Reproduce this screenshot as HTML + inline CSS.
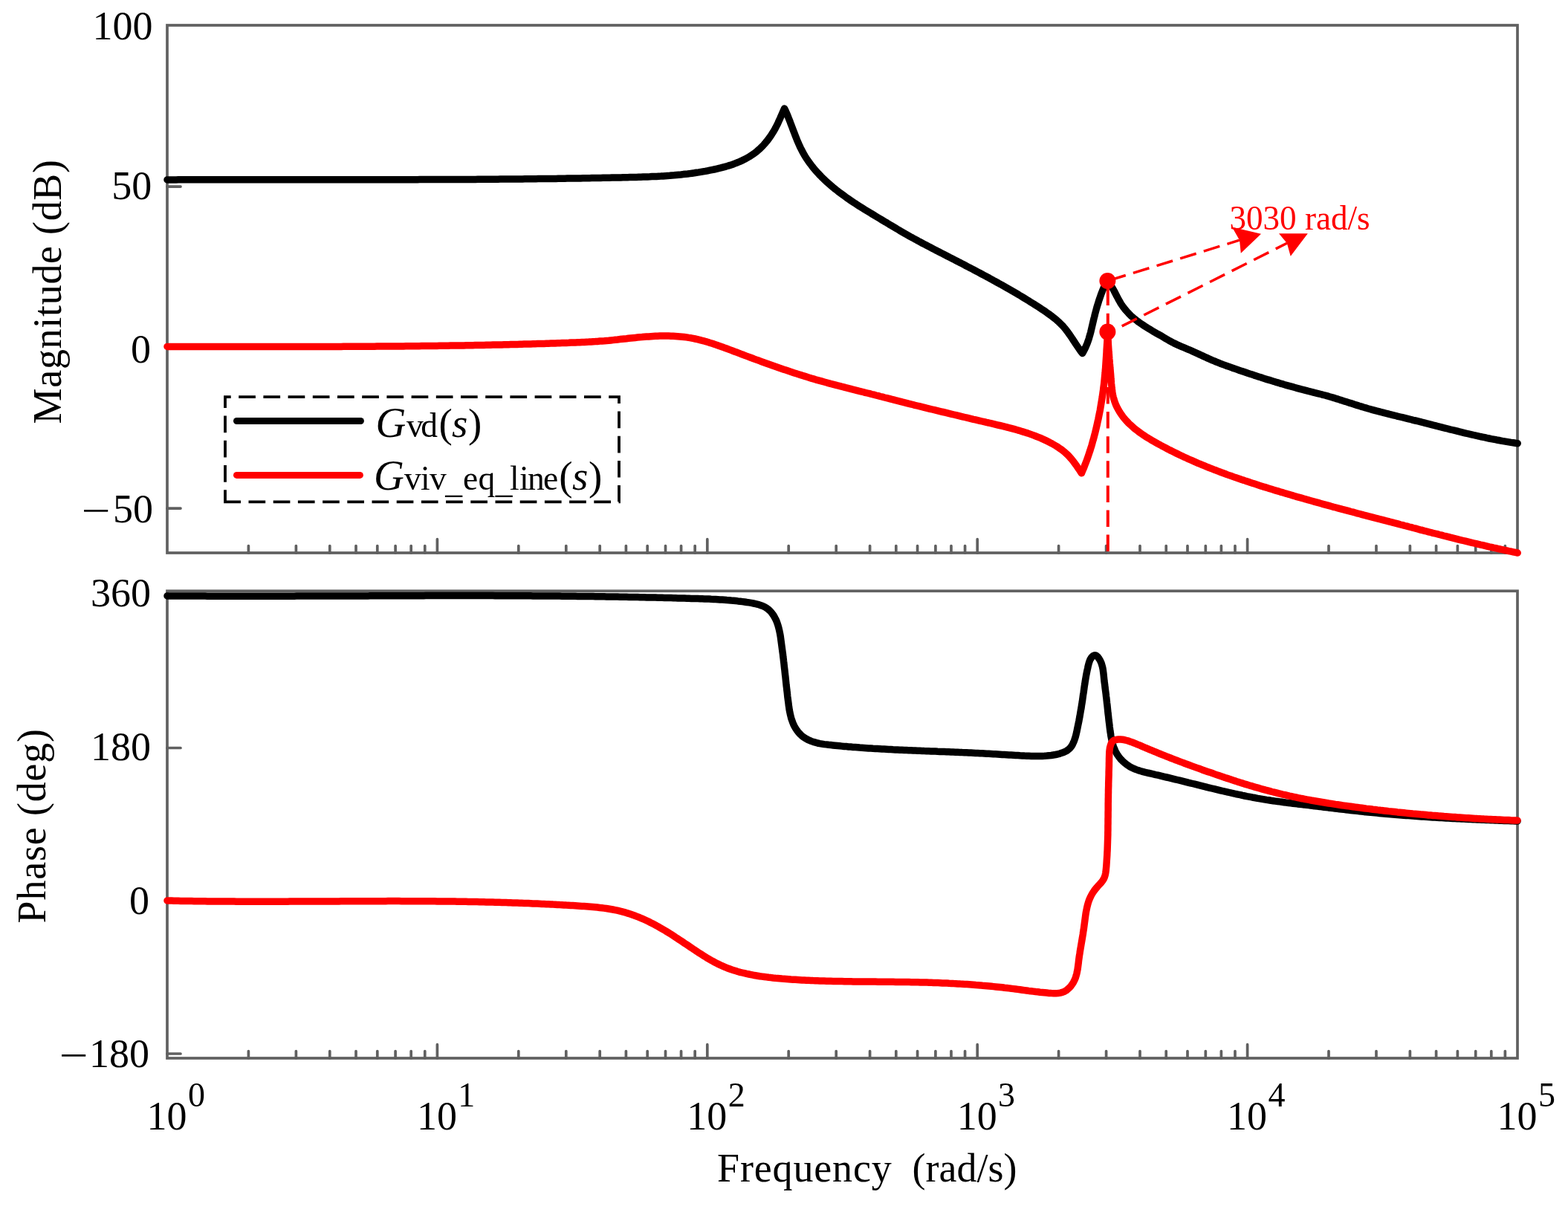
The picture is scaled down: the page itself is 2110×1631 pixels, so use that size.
<!DOCTYPE html><html><head><meta charset="utf-8"><title>Bode plot</title><style>
html,body{margin:0;padding:0;background:#fff;width:2110px;height:1631px;overflow:hidden}
svg{display:block}
text{font-family:"Liberation Serif","Times New Roman",serif;fill:#000}
</style></head><body>
<svg xmlns="http://www.w3.org/2000/svg" width="2110" height="1631" viewBox="0 0 2110 1631">
<rect width="2110" height="1631" fill="#fff"/>
<rect x="225.0" y="34.0" width="1817.0" height="710.0" fill="none" stroke="#606060" stroke-width="3.70"/>
<path d="M334.39,744.0V734.6M398.39,744.0V734.6M443.79,744.0V734.6M479.01,744.0V734.6M507.78,744.0V734.6M532.11,744.0V734.6M553.18,744.0V734.6M571.77,744.0V734.6M588.40,744.0V725.7M697.79,744.0V734.6M761.79,744.0V734.6M807.19,744.0V734.6M842.41,744.0V734.6M871.18,744.0V734.6M895.51,744.0V734.6M916.58,744.0V734.6M935.17,744.0V734.6M951.80,744.0V725.7M1061.19,744.0V734.6M1125.19,744.0V734.6M1170.59,744.0V734.6M1205.81,744.0V734.6M1234.58,744.0V734.6M1258.91,744.0V734.6M1279.98,744.0V734.6M1298.57,744.0V734.6M1315.20,744.0V725.7M1424.59,744.0V734.6M1488.59,744.0V734.6M1533.99,744.0V734.6M1569.21,744.0V734.6M1597.98,744.0V734.6M1622.31,744.0V734.6M1643.38,744.0V734.6M1661.97,744.0V734.6M1678.60,744.0V725.7M1787.99,744.0V734.6M1851.99,744.0V734.6M1897.39,744.0V734.6M1932.61,744.0V734.6M1961.38,744.0V734.6M1985.71,744.0V734.6M2006.78,744.0V734.6M2025.37,744.0V734.6" stroke="#606060" stroke-width="3.70" stroke-linecap="round" fill="none"/>
<rect x="225.0" y="795.3" width="1817.0" height="628.7" fill="none" stroke="#606060" stroke-width="3.70"/>
<path d="M334.39,1424.0V1414.6M398.39,1424.0V1414.6M443.79,1424.0V1414.6M479.01,1424.0V1414.6M507.78,1424.0V1414.6M532.11,1424.0V1414.6M553.18,1424.0V1414.6M571.77,1424.0V1414.6M588.40,1424.0V1405.7M697.79,1424.0V1414.6M761.79,1424.0V1414.6M807.19,1424.0V1414.6M842.41,1424.0V1414.6M871.18,1424.0V1414.6M895.51,1424.0V1414.6M916.58,1424.0V1414.6M935.17,1424.0V1414.6M951.80,1424.0V1405.7M1061.19,1424.0V1414.6M1125.19,1424.0V1414.6M1170.59,1424.0V1414.6M1205.81,1424.0V1414.6M1234.58,1424.0V1414.6M1258.91,1424.0V1414.6M1279.98,1424.0V1414.6M1298.57,1424.0V1414.6M1315.20,1424.0V1405.7M1424.59,1424.0V1414.6M1488.59,1424.0V1414.6M1533.99,1424.0V1414.6M1569.21,1424.0V1414.6M1597.98,1424.0V1414.6M1622.31,1424.0V1414.6M1643.38,1424.0V1414.6M1661.97,1424.0V1414.6M1678.60,1424.0V1405.7M1787.99,1424.0V1414.6M1851.99,1424.0V1414.6M1897.39,1424.0V1414.6M1932.61,1424.0V1414.6M1961.38,1424.0V1414.6M1985.71,1424.0V1414.6M2006.78,1424.0V1414.6M2025.37,1424.0V1414.6" stroke="#606060" stroke-width="3.70" stroke-linecap="round" fill="none"/>
<path d="M225.0,251.1H243.0M225.0,467.6H243.0M225.0,684.1H243.0M225.0,800.0H243.0M225.0,1006.5H243.0M225.0,1212.3H243.0M225.0,1418.0H243.0" stroke="#606060" stroke-width="3.70" stroke-linecap="round" fill="none"/>
<text x="205.4" y="52.9" font-size="54" text-anchor="end">100</text>
<text x="204.3" y="267.6" font-size="54" text-anchor="end">50</text>
<text x="203.0" y="487.7" font-size="54" text-anchor="end">0</text>
<text x="206.1" y="702.7" font-size="54" text-anchor="end">50</text>
<text x="203.1" y="815.7" font-size="54" text-anchor="end">360</text>
<text x="203.1" y="1022.6" font-size="54" text-anchor="end">180</text>
<text x="201.1" y="1229.6" font-size="54" text-anchor="end">0</text>
<text x="201.1" y="1435.5" font-size="54" text-anchor="end">180</text>
<text font-size="54" transform="translate(109.56,705.33) scale(1.280,1)">&#8722;</text>
<text font-size="54" transform="translate(79.46,1438.33) scale(1.280,1)">&#8722;</text>
<text x="197.5" y="1519.7" font-size="54">10</text>
<text x="252.9" y="1488.9" font-size="46">0</text>
<text x="560.9" y="1519.7" font-size="54">10</text>
<text x="616.3" y="1488.9" font-size="46">1</text>
<text x="924.3" y="1519.7" font-size="54">10</text>
<text x="979.7" y="1488.9" font-size="46">2</text>
<text x="1287.7" y="1519.7" font-size="54">10</text>
<text x="1343.1" y="1488.9" font-size="46">3</text>
<text x="1651.1" y="1519.7" font-size="54">10</text>
<text x="1706.5" y="1488.9" font-size="46">4</text>
<text x="2014.5" y="1519.7" font-size="54">10</text>
<text x="2069.9" y="1488.9" font-size="46">5</text>
<text x="965.0" y="1589.8" font-size="54" letter-spacing="0.85">Frequency</text>
<text x="1227.5" y="1589.8" font-size="54">(rad/s)</text>
<text font-size="54" letter-spacing="0.7" transform="translate(81.8,570.5) rotate(-90)">Magnitude (dB)</text>
<text font-size="54" letter-spacing="0.8" transform="translate(61.0,1242.4) rotate(-90)">Phase (deg)</text>
<path d="M225.0,241.9L228.0,241.9L231.0,241.9L234.0,241.9L237.0,241.9L240.0,241.8L243.0,241.8L246.0,241.8L249.0,241.8L252.0,241.8L255.0,241.8L258.0,241.8L261.1,241.8L264.1,241.8L267.1,241.8L270.1,241.8L273.1,241.8L276.1,241.8L279.1,241.7L282.1,241.7L285.1,241.7L288.1,241.7L291.1,241.7L294.1,241.7L297.1,241.7L300.1,241.7L303.1,241.7L306.1,241.7L309.1,241.7L312.1,241.7L315.2,241.7L318.2,241.7L321.2,241.7L324.2,241.7L327.2,241.7L330.2,241.7L333.2,241.7L336.2,241.7L339.2,241.7L342.2,241.7L345.2,241.7L348.2,241.7L351.2,241.7L354.2,241.7L357.2,241.7L360.2,241.7L363.3,241.7L366.3,241.7L369.3,241.7L372.3,241.7L375.3,241.7L378.3,241.7L381.3,241.7L384.3,241.7L387.3,241.7L390.3,241.7L393.3,241.7L396.3,241.7L399.3,241.7L402.4,241.7L405.4,241.7L408.4,241.7L411.4,241.7L414.4,241.7L417.4,241.7L420.4,241.7L423.4,241.7L426.4,241.7L429.4,241.7L432.4,241.7L435.4,241.7L438.4,241.7L441.5,241.7L444.5,241.7L447.5,241.7L450.5,241.7L453.5,241.7L456.5,241.7L459.5,241.7L462.5,241.7L465.5,241.7L468.5,241.7L471.5,241.7L474.5,241.7L477.6,241.7L480.6,241.7L483.6,241.7L486.6,241.7L489.6,241.7L492.6,241.7L495.6,241.7L498.6,241.7L501.6,241.7L504.6,241.7L507.6,241.7L510.6,241.7L513.7,241.7L516.7,241.7L519.7,241.7L522.7,241.7L525.7,241.7L528.7,241.7L531.7,241.7L534.7,241.7L537.7,241.7L540.7,241.7L543.7,241.7L546.7,241.7L549.8,241.7L552.8,241.7L555.8,241.7L558.8,241.7L561.8,241.7L564.8,241.6L567.8,241.6L570.8,241.6L573.8,241.6L576.8,241.6L579.8,241.6L582.8,241.6L585.8,241.6L588.9,241.6L591.9,241.6L594.9,241.6L597.9,241.5L600.9,241.5L603.9,241.5L606.9,241.5L609.9,241.5L612.9,241.5L615.9,241.5L618.9,241.5L621.9,241.4L625.0,241.4L628.0,241.4L631.0,241.4L634.0,241.4L637.0,241.4L640.0,241.4L643.0,241.3L646.0,241.3L649.0,241.3L652.0,241.3L655.0,241.3L658.0,241.2L661.0,241.2L664.0,241.2L667.1,241.2L670.1,241.2L673.1,241.1L676.1,241.1L679.1,241.1L682.1,241.1L685.1,241.0L688.1,241.0L691.1,241.0L694.1,241.0L697.1,240.9L700.1,240.9L703.1,240.9L706.1,240.8L709.1,240.8L712.2,240.8L715.2,240.7L718.2,240.7L721.2,240.7L724.2,240.6L727.2,240.6L730.2,240.6L733.2,240.5L736.2,240.5L739.2,240.5L742.2,240.4L745.2,240.4L748.2,240.4L751.2,240.3L754.2,240.3L757.2,240.2L760.2,240.2L763.3,240.1L766.3,240.1L769.3,240.1L772.3,240.0L775.3,240.0L778.3,239.9L781.3,239.9L784.3,239.8L787.3,239.8L790.3,239.7L793.3,239.7L796.3,239.6L799.3,239.6L802.3,239.5L805.3,239.5L808.3,239.4L811.3,239.3L814.3,239.3L817.3,239.2L820.3,239.2L823.3,239.1L826.3,239.0L829.3,239.0L832.3,238.9L835.3,238.9L838.4,238.8L841.4,238.7L844.4,238.7L847.4,238.6L850.4,238.5L853.4,238.4L856.4,238.4L859.4,238.3L862.4,238.2L865.4,238.1L868.4,238.0L871.4,237.9L874.4,237.8L877.4,237.6L880.4,237.5L883.4,237.4L886.4,237.2L889.4,237.1L892.4,236.9L895.4,236.7L898.3,236.5L901.3,236.3L904.3,236.0L907.3,235.8L910.3,235.5L913.3,235.2L916.3,235.0L919.3,234.6L922.3,234.3L925.3,234.0L928.2,233.6L931.2,233.2L934.2,232.8L937.2,232.3L940.2,231.9L943.2,231.4L946.1,230.9L949.1,230.4L952.1,229.8L955.1,229.2L958.0,228.6L961.0,228.0L964.0,227.3L966.9,226.6L969.9,225.9L972.8,225.1L975.8,224.3L978.7,223.5L981.6,222.6L984.5,221.7L987.3,220.7L990.1,219.6L992.9,218.5L995.7,217.3L998.4,216.1L1001.1,214.8L1003.7,213.5L1006.3,212.0L1008.9,210.5L1011.3,208.9L1013.8,207.3L1016.2,205.5L1018.5,203.7L1020.8,201.7L1023.0,199.7L1025.1,197.6L1027.2,195.5L1029.2,193.2L1031.1,190.9L1033.0,188.6L1034.8,186.1L1036.6,183.7L1038.3,181.1L1039.9,178.5L1041.5,175.9L1043.0,173.3L1044.4,170.6L1045.8,167.9L1047.1,165.2L1048.3,162.4L1049.6,159.7L1050.8,156.9L1052.0,154.2L1053.2,151.4L1054.4,148.7L1055.6,146.0L1056.9,148.7L1058.1,151.4L1059.3,154.2L1060.4,156.9L1061.5,159.7L1062.7,162.6L1063.7,165.4L1064.8,168.2L1065.9,171.1L1066.9,173.9L1068.0,176.8L1069.1,179.6L1070.2,182.5L1071.3,185.3L1072.4,188.1L1073.6,190.9L1074.8,193.7L1076.0,196.4L1077.3,199.1L1078.7,201.8L1080.1,204.5L1081.5,207.1L1083.0,209.7L1084.6,212.2L1086.2,214.7L1087.9,217.2L1089.7,219.6L1091.5,222.0L1093.3,224.4L1095.2,226.7L1097.1,229.0L1099.1,231.2L1101.1,233.4L1103.2,235.6L1105.3,237.8L1107.4,239.9L1109.6,242.0L1111.8,244.1L1114.1,246.1L1116.4,248.1L1118.7,250.1L1121.0,252.1L1123.3,254.0L1125.7,255.9L1128.1,257.8L1130.6,259.6L1133.0,261.4L1135.5,263.2L1137.9,265.0L1140.4,266.8L1142.9,268.5L1145.4,270.2L1148.0,271.9L1150.5,273.6L1153.0,275.2L1155.6,276.9L1158.1,278.5L1160.6,280.1L1163.2,281.7L1165.7,283.2L1168.3,284.8L1170.8,286.3L1173.4,287.9L1175.9,289.4L1178.5,291.0L1181.0,292.5L1183.6,294.0L1186.2,295.6L1188.7,297.1L1191.3,298.7L1193.9,300.2L1196.5,301.8L1199.1,303.3L1201.7,304.9L1204.3,306.4L1206.9,308.0L1209.5,309.5L1212.1,311.1L1214.7,312.6L1217.3,314.1L1220.0,315.6L1222.6,317.1L1225.2,318.6L1227.9,320.0L1230.5,321.5L1233.2,322.9L1235.8,324.4L1238.5,325.8L1241.1,327.2L1243.8,328.6L1246.5,330.0L1249.1,331.4L1251.8,332.8L1254.5,334.2L1257.2,335.6L1259.8,337.0L1262.5,338.4L1265.2,339.7L1267.9,341.1L1270.6,342.5L1273.2,343.9L1275.9,345.2L1278.6,346.6L1281.3,348.0L1284.0,349.4L1286.6,350.8L1289.3,352.1L1292.0,353.5L1294.7,354.9L1297.4,356.3L1300.0,357.7L1302.7,359.1L1305.4,360.5L1308.1,361.9L1310.7,363.3L1313.4,364.7L1316.1,366.1L1318.7,367.5L1321.4,369.0L1324.0,370.4L1326.7,371.8L1329.4,373.2L1332.0,374.7L1334.7,376.1L1337.3,377.6L1339.9,379.0L1342.6,380.5L1345.2,382.0L1347.9,383.4L1350.5,384.9L1353.1,386.4L1355.7,387.9L1358.4,389.4L1361.0,390.9L1363.6,392.4L1366.2,393.9L1368.8,395.4L1371.4,397.0L1374.0,398.5L1376.6,400.1L1379.1,401.6L1381.7,403.2L1384.3,404.8L1386.8,406.4L1389.4,408.0L1392.0,409.6L1394.5,411.2L1397.0,412.8L1399.6,414.5L1402.1,416.2L1404.6,417.8L1407.1,419.5L1409.6,421.3L1412.0,423.0L1414.5,424.8L1416.9,426.7L1419.2,428.5L1421.6,430.4L1423.8,432.4L1426.0,434.5L1428.1,436.6L1430.2,438.7L1432.2,441.0L1434.1,443.3L1435.9,445.7L1437.7,448.1L1439.5,450.6L1441.2,453.1L1442.9,455.6L1444.5,458.1L1446.2,460.7L1447.8,463.2L1449.5,465.7L1451.2,468.2L1452.9,470.7L1454.7,473.1L1456.5,475.5L1458.1,472.8L1459.5,470.1L1460.8,467.4L1462.0,464.6L1463.2,461.7L1464.2,458.9L1465.2,456.0L1466.0,453.0L1466.9,450.1L1467.7,447.1L1468.4,444.1L1469.1,441.1L1469.8,438.1L1470.5,435.1L1471.2,432.1L1471.9,429.1L1472.7,426.1L1473.4,423.1L1474.2,420.1L1475.0,417.1L1475.8,414.2L1476.7,411.2L1477.6,408.3L1478.5,405.3L1479.5,402.4L1480.5,399.5L1481.5,396.6L1482.6,393.8L1483.7,390.9L1484.9,388.1L1486.2,385.3L1487.5,382.5L1488.8,379.7L1490.2,377.0L1492.0,379.4L1493.6,381.8L1495.2,384.4L1496.7,387.0L1498.2,389.6L1499.6,392.3L1501.0,395.0L1502.4,397.7L1503.8,400.4L1505.2,403.1L1506.7,405.7L1508.2,408.3L1509.9,410.8L1511.6,413.3L1513.4,415.6L1515.3,417.9L1517.3,420.1L1519.3,422.3L1521.4,424.4L1523.6,426.4L1525.9,428.3L1528.2,430.2L1530.6,432.1L1533.0,433.9L1535.5,435.6L1538.0,437.3L1540.5,439.0L1543.0,440.6L1545.6,442.2L1548.2,443.7L1550.8,445.3L1553.4,446.8L1556.0,448.3L1558.6,449.8L1561.2,451.2L1563.8,452.7L1566.4,454.3L1569.0,455.8L1571.5,457.3L1574.1,458.8L1576.8,460.2L1579.4,461.6L1582.1,462.9L1584.8,464.2L1587.5,465.4L1590.3,466.6L1593.0,467.7L1595.8,468.9L1598.6,470.1L1601.3,471.2L1604.1,472.4L1606.8,473.7L1609.5,474.9L1612.3,476.1L1615.0,477.4L1617.7,478.6L1620.4,479.9L1623.2,481.1L1625.9,482.4L1628.7,483.6L1631.4,484.8L1634.2,485.9L1636.9,487.1L1639.7,488.2L1642.5,489.3L1645.3,490.4L1648.1,491.4L1651.0,492.4L1653.8,493.4L1656.6,494.4L1659.5,495.4L1662.3,496.4L1665.1,497.4L1668.0,498.4L1670.8,499.4L1673.7,500.3L1676.5,501.3L1679.3,502.3L1682.2,503.2L1685.0,504.1L1687.9,505.1L1690.8,506.0L1693.6,506.9L1696.5,507.8L1699.3,508.8L1702.2,509.7L1705.1,510.6L1707.9,511.4L1710.8,512.3L1713.7,513.2L1716.5,514.1L1719.4,514.9L1722.3,515.8L1725.2,516.6L1728.0,517.5L1730.9,518.3L1733.8,519.1L1736.7,519.9L1739.6,520.7L1742.5,521.5L1745.4,522.3L1748.3,523.1L1751.2,523.9L1754.1,524.6L1757.0,525.4L1759.9,526.2L1762.8,526.9L1765.7,527.6L1768.6,528.4L1771.5,529.1L1774.5,529.8L1777.4,530.5L1780.3,531.3L1783.2,532.0L1786.1,532.8L1789.0,533.7L1791.8,534.5L1794.7,535.4L1797.6,536.3L1800.5,537.1L1803.3,538.1L1806.2,539.0L1809.0,539.9L1811.9,540.8L1814.7,541.7L1817.6,542.6L1820.5,543.6L1823.3,544.5L1826.2,545.4L1829.1,546.3L1831.9,547.1L1834.8,548.0L1837.7,548.8L1840.6,549.7L1843.4,550.5L1846.3,551.3L1849.2,552.1L1852.1,552.9L1855.0,553.6L1857.9,554.4L1860.8,555.1L1863.7,555.9L1866.7,556.6L1869.6,557.4L1872.5,558.1L1875.4,558.8L1878.3,559.5L1881.2,560.3L1884.1,561.0L1887.1,561.7L1890.0,562.4L1892.9,563.1L1895.8,563.8L1898.7,564.5L1901.6,565.3L1904.6,566.0L1907.5,566.7L1910.4,567.4L1913.3,568.2L1916.2,568.9L1919.1,569.7L1922.0,570.4L1924.9,571.1L1927.8,571.9L1930.8,572.6L1933.7,573.4L1936.6,574.1L1939.5,574.8L1942.4,575.6L1945.3,576.3L1948.2,577.0L1951.1,577.8L1954.0,578.5L1956.9,579.2L1959.9,579.9L1962.8,580.7L1965.7,581.4L1968.6,582.1L1971.5,582.8L1974.4,583.5L1977.4,584.2L1980.3,584.8L1983.2,585.5L1986.1,586.2L1989.1,586.8L1992.0,587.5L1994.9,588.1L1997.9,588.7L2000.8,589.4L2003.7,590.0L2006.7,590.6L2009.6,591.1L2012.6,591.7L2015.5,592.3L2018.5,592.8L2021.4,593.4L2024.4,593.9L2027.3,594.4L2030.3,594.9L2033.3,595.4L2036.2,595.8L2039.2,596.3L2042.2,596.7" fill="none" stroke="#000" stroke-width="9.5" stroke-linecap="round" stroke-linejoin="round"/>
<path d="M225.0,466.4L228.0,466.4L231.0,466.4L234.0,466.4L237.0,466.4L240.0,466.4L243.0,466.4L246.0,466.4L249.0,466.4L252.0,466.4L255.0,466.4L258.0,466.4L261.0,466.4L264.0,466.4L267.0,466.4L270.0,466.4L273.0,466.4L276.0,466.4L279.0,466.4L282.0,466.4L285.0,466.4L288.0,466.4L291.0,466.4L294.0,466.4L297.0,466.4L300.0,466.4L303.0,466.4L306.0,466.4L309.0,466.4L312.0,466.4L315.0,466.4L318.0,466.4L321.0,466.4L324.0,466.4L327.0,466.4L330.0,466.4L333.0,466.4L336.0,466.4L339.0,466.4L342.1,466.5L345.1,466.5L348.1,466.5L351.1,466.5L354.1,466.5L357.1,466.5L360.1,466.5L363.1,466.5L366.1,466.5L369.1,466.5L372.1,466.5L375.1,466.5L378.1,466.5L381.1,466.5L384.1,466.5L387.1,466.5L390.1,466.5L393.1,466.5L396.1,466.5L399.1,466.5L402.1,466.5L405.1,466.5L408.1,466.4L411.1,466.4L414.1,466.4L417.1,466.4L420.1,466.4L423.1,466.4L426.1,466.4L429.1,466.4L432.1,466.4L435.1,466.4L438.1,466.4L441.1,466.4L444.1,466.4L447.1,466.4L450.1,466.4L453.1,466.4L456.1,466.4L459.1,466.4L462.1,466.3L465.1,466.3L468.1,466.3L471.1,466.3L474.1,466.3L477.1,466.3L480.1,466.3L483.1,466.3L486.1,466.2L489.1,466.2L492.1,466.2L495.1,466.2L498.1,466.2L501.1,466.2L504.1,466.2L507.1,466.1L510.1,466.1L513.1,466.1L516.1,466.1L519.1,466.1L522.1,466.0L525.1,466.0L528.1,466.0L531.1,466.0L534.1,465.9L537.1,465.9L540.1,465.9L543.1,465.9L546.1,465.8L549.1,465.8L552.1,465.8L555.1,465.8L558.1,465.7L561.1,465.7L564.1,465.7L567.1,465.6L570.1,465.6L573.1,465.6L576.1,465.5L579.1,465.5L582.1,465.5L585.1,465.4L588.1,465.4L591.1,465.3L594.1,465.3L597.1,465.3L600.1,465.2L603.1,465.2L606.1,465.1L609.1,465.1L612.1,465.1L615.1,465.0L618.1,465.0L621.2,464.9L624.2,464.9L627.2,464.8L630.2,464.8L633.2,464.7L636.2,464.7L639.2,464.6L642.2,464.5L645.2,464.5L648.2,464.4L651.2,464.4L654.2,464.3L657.2,464.3L660.2,464.2L663.2,464.1L666.2,464.1L669.2,464.0L672.2,463.9L675.2,463.9L678.2,463.8L681.2,463.7L684.2,463.7L687.2,463.6L690.2,463.5L693.2,463.4L696.2,463.4L699.2,463.3L702.2,463.2L705.2,463.1L708.2,463.0L711.2,463.0L714.2,462.9L717.2,462.8L720.2,462.7L723.2,462.6L726.2,462.5L729.2,462.4L732.2,462.4L735.2,462.3L738.2,462.2L741.2,462.1L744.2,462.0L747.2,461.9L750.2,461.8L753.2,461.7L756.2,461.6L759.2,461.5L762.2,461.4L765.2,461.3L768.2,461.1L771.2,461.0L774.2,460.9L777.2,460.8L780.2,460.7L783.2,460.5L786.2,460.4L789.2,460.2L792.2,460.1L795.2,459.9L798.1,459.7L801.1,459.6L804.1,459.4L807.1,459.1L810.1,458.9L813.1,458.7L816.1,458.4L819.1,458.2L822.1,457.9L825.0,457.6L828.0,457.3L831.0,457.0L834.0,456.6L837.0,456.3L840.0,456.0L842.9,455.7L845.9,455.3L848.9,455.0L851.9,454.7L854.9,454.4L857.9,454.1L860.9,453.8L863.9,453.6L866.9,453.3L869.9,453.1L872.9,452.9L875.9,452.7L878.9,452.5L881.9,452.3L884.9,452.2L887.9,452.1L890.9,452.1L893.9,452.1L896.9,452.1L899.9,452.1L902.9,452.2L905.9,452.3L908.9,452.5L911.9,452.7L914.9,452.9L917.9,453.2L920.8,453.5L923.8,453.9L926.7,454.4L929.7,454.8L932.6,455.4L935.5,456.0L938.4,456.6L941.3,457.3L944.2,458.1L947.1,458.8L950.0,459.7L952.9,460.5L955.7,461.4L958.6,462.3L961.4,463.3L964.3,464.2L967.1,465.2L970.0,466.2L972.8,467.2L975.6,468.3L978.4,469.3L981.3,470.4L984.1,471.4L986.9,472.5L989.7,473.6L992.6,474.6L995.4,475.7L998.2,476.8L1001.0,477.8L1003.8,478.9L1006.6,479.9L1009.5,481.0L1012.3,482.0L1015.1,483.1L1017.9,484.1L1020.8,485.1L1023.6,486.2L1026.4,487.2L1029.2,488.2L1032.0,489.2L1034.9,490.2L1037.7,491.2L1040.5,492.2L1043.4,493.2L1046.2,494.2L1049.0,495.2L1051.9,496.2L1054.7,497.2L1057.5,498.1L1060.4,499.1L1063.2,500.0L1066.1,501.0L1068.9,501.9L1071.7,502.8L1074.6,503.7L1077.5,504.6L1080.3,505.5L1083.2,506.4L1086.0,507.3L1088.9,508.2L1091.8,509.1L1094.6,509.9L1097.5,510.8L1100.4,511.6L1103.3,512.4L1106.2,513.2L1109.1,514.0L1111.9,514.8L1114.8,515.6L1117.7,516.4L1120.6,517.1L1123.5,517.9L1126.4,518.7L1129.4,519.4L1132.3,520.2L1135.2,520.9L1138.1,521.7L1141.0,522.4L1143.9,523.1L1146.8,523.9L1149.7,524.6L1152.6,525.3L1155.6,526.1L1158.5,526.8L1161.4,527.5L1164.3,528.3L1167.2,529.0L1170.1,529.7L1173.0,530.5L1175.9,531.2L1178.9,532.0L1181.8,532.7L1184.7,533.5L1187.6,534.2L1190.5,535.0L1193.4,535.7L1196.3,536.4L1199.2,537.2L1202.1,537.9L1205.0,538.7L1207.9,539.4L1210.8,540.1L1213.8,540.9L1216.7,541.6L1219.6,542.3L1222.5,543.1L1225.4,543.8L1228.3,544.5L1231.2,545.3L1234.1,546.0L1237.0,546.7L1239.9,547.4L1242.8,548.1L1245.8,548.9L1248.7,549.6L1251.6,550.3L1254.5,551.0L1257.4,551.7L1260.3,552.4L1263.2,553.1L1266.1,553.8L1269.1,554.5L1272.0,555.2L1274.9,555.9L1277.8,556.6L1280.7,557.3L1283.6,558.0L1286.5,558.7L1289.5,559.4L1292.4,560.1L1295.3,560.8L1298.2,561.5L1301.1,562.2L1304.1,562.9L1307.0,563.6L1309.9,564.3L1312.8,564.9L1315.8,565.6L1318.7,566.3L1321.6,567.0L1324.5,567.7L1327.5,568.4L1330.4,569.0L1333.3,569.7L1336.3,570.4L1339.2,571.1L1342.1,571.8L1345.1,572.5L1348.0,573.2L1350.9,573.9L1353.8,574.6L1356.7,575.4L1359.6,576.1L1362.5,576.9L1365.4,577.7L1368.3,578.5L1371.2,579.3L1374.1,580.2L1377.0,581.1L1379.8,582.0L1382.7,582.9L1385.5,583.9L1388.3,584.9L1391.1,585.9L1393.9,587.0L1396.7,588.1L1399.5,589.2L1402.2,590.4L1404.9,591.6L1407.7,592.9L1410.4,594.2L1413.0,595.6L1415.7,597.0L1418.3,598.5L1420.9,600.0L1423.5,601.6L1425.9,603.3L1428.4,605.0L1430.7,606.8L1433.0,608.7L1435.2,610.7L1437.4,612.8L1439.4,615.0L1441.4,617.2L1443.3,619.5L1445.1,621.9L1446.9,624.3L1448.7,626.8L1450.4,629.3L1452.1,631.8L1453.7,634.3L1455.4,636.8L1456.6,634.0L1457.8,631.2L1458.9,628.4L1460.0,625.6L1461.1,622.8L1462.2,619.9L1463.2,617.1L1464.2,614.2L1465.2,611.3L1466.1,608.5L1467.1,605.6L1468.0,602.7L1468.9,599.8L1469.7,596.9L1470.5,593.9L1471.4,591.0L1472.2,588.1L1472.9,585.2L1473.7,582.2L1474.4,579.3L1475.1,576.3L1475.8,573.4L1476.5,570.4L1477.1,567.4L1477.8,564.5L1478.4,561.5L1479.0,558.5L1479.6,555.5L1480.2,552.6L1480.7,549.6L1481.2,546.6L1481.7,543.6L1482.2,540.6L1482.7,537.6L1483.2,534.6L1483.6,531.6L1484.1,528.6L1484.5,525.6L1484.8,522.6L1485.2,519.6L1485.6,516.6L1485.9,513.6L1486.2,510.6L1486.5,507.5L1486.8,504.5L1487.1,501.5L1487.3,498.5L1487.6,495.5L1487.8,492.4L1488.0,489.4L1488.2,486.4L1488.4,483.3L1488.6,480.3L1488.8,477.3L1489.0,474.3L1489.1,471.2L1489.3,468.2L1489.5,465.2L1489.7,462.1L1489.9,459.1L1490.0,456.1L1490.2,453.1L1490.4,450.0L1490.6,447.0L1490.7,450.0L1490.9,453.1L1491.0,456.1L1491.2,459.1L1491.3,462.1L1491.5,465.1L1491.7,468.1L1491.9,471.0L1492.1,474.0L1492.4,477.0L1492.6,480.0L1492.8,482.9L1493.1,485.9L1493.3,488.9L1493.6,491.9L1493.8,494.8L1494.1,497.8L1494.3,500.8L1494.6,503.8L1494.8,506.8L1495.0,509.8L1495.3,512.9L1495.5,515.9L1495.8,518.9L1496.1,522.0L1496.5,525.0L1496.9,528.0L1497.4,530.9L1498.0,533.9L1498.8,536.8L1499.7,539.6L1500.7,542.5L1501.8,545.2L1503.1,548.0L1504.5,550.6L1506.0,553.2L1507.6,555.8L1509.3,558.2L1511.0,560.7L1512.9,563.0L1514.8,565.3L1516.8,567.4L1518.9,569.6L1521.0,571.6L1523.2,573.6L1525.4,575.6L1527.7,577.5L1530.1,579.3L1532.5,581.1L1534.9,582.9L1537.4,584.6L1539.9,586.3L1542.4,587.9L1545.0,589.5L1547.5,591.0L1550.1,592.6L1552.8,594.1L1555.4,595.6L1558.0,597.1L1560.7,598.5L1563.3,600.0L1566.0,601.4L1568.7,602.8L1571.3,604.2L1574.0,605.6L1576.7,606.9L1579.4,608.3L1582.1,609.6L1584.8,610.9L1587.5,612.2L1590.2,613.5L1592.9,614.8L1595.7,616.0L1598.4,617.3L1601.1,618.5L1603.9,619.7L1606.6,620.9L1609.4,622.1L1612.1,623.3L1614.9,624.4L1617.7,625.6L1620.4,626.7L1623.2,627.9L1626.0,629.0L1628.8,630.1L1631.6,631.2L1634.4,632.3L1637.2,633.3L1640.0,634.4L1642.8,635.5L1645.6,636.5L1648.4,637.5L1651.2,638.6L1654.0,639.6L1656.9,640.6L1659.7,641.6L1662.5,642.6L1665.3,643.5L1668.2,644.5L1671.0,645.5L1673.9,646.4L1676.7,647.4L1679.6,648.3L1682.4,649.3L1685.3,650.2L1688.1,651.1L1691.0,652.0L1693.8,652.9L1696.7,653.9L1699.5,654.8L1702.4,655.6L1705.3,656.5L1708.1,657.4L1711.0,658.3L1713.9,659.2L1716.8,660.1L1719.6,660.9L1722.5,661.8L1725.4,662.6L1728.2,663.5L1731.1,664.3L1734.0,665.2L1736.9,666.0L1739.8,666.9L1742.6,667.7L1745.5,668.6L1748.4,669.4L1751.3,670.2L1754.2,671.0L1757.1,671.8L1760.0,672.7L1762.9,673.5L1765.7,674.3L1768.6,675.1L1771.5,675.9L1774.4,676.7L1777.3,677.5L1780.2,678.3L1783.1,679.1L1786.0,679.9L1788.9,680.7L1791.8,681.5L1794.7,682.3L1797.6,683.0L1800.5,683.8L1803.4,684.6L1806.3,685.4L1809.2,686.1L1812.1,686.9L1815.0,687.7L1817.9,688.5L1820.8,689.2L1823.7,690.0L1826.6,690.8L1829.5,691.5L1832.4,692.3L1835.3,693.1L1838.2,693.8L1841.1,694.6L1844.0,695.3L1846.9,696.1L1849.8,696.9L1852.7,697.6L1855.7,698.4L1858.6,699.1L1861.5,699.9L1864.4,700.7L1867.3,701.4L1870.2,702.2L1873.1,702.9L1876.0,703.7L1878.9,704.4L1881.8,705.2L1884.7,706.0L1887.6,706.7L1890.5,707.5L1893.4,708.2L1896.3,709.0L1899.2,709.7L1902.1,710.5L1905.0,711.2L1907.9,712.0L1910.8,712.8L1913.8,713.5L1916.7,714.3L1919.6,715.0L1922.5,715.8L1925.4,716.5L1928.3,717.3L1931.2,718.0L1934.1,718.7L1937.0,719.5L1939.9,720.2L1942.8,721.0L1945.7,721.7L1948.6,722.4L1951.5,723.2L1954.5,723.9L1957.4,724.6L1960.3,725.3L1963.2,726.1L1966.1,726.8L1969.0,727.5L1971.9,728.2L1974.9,728.9L1977.8,729.6L1980.7,730.3L1983.6,731.0L1986.5,731.7L1989.4,732.4L1992.4,733.1L1995.3,733.7L1998.2,734.4L2001.1,735.1L2004.1,735.8L2007.0,736.4L2009.9,737.1L2012.8,737.7L2015.8,738.4L2018.7,739.0L2021.6,739.7L2024.6,740.3L2027.5,740.9L2030.4,741.6L2033.4,742.2L2036.3,742.8L2039.3,743.4L2042.2,744.0" fill="none" stroke="#f00" stroke-width="9.5" stroke-linecap="round" stroke-linejoin="round"/>
<path d="M225.0,801.9L228.0,801.9L231.0,801.9L234.0,802.0L237.0,802.0L240.0,802.0L243.0,802.0L246.0,802.0L249.0,802.0L252.0,802.1L255.0,802.1L258.0,802.1L261.0,802.1L264.0,802.1L267.0,802.1L270.0,802.1L273.0,802.1L276.0,802.1L279.0,802.2L282.0,802.2L285.0,802.2L288.0,802.2L291.0,802.2L294.0,802.2L297.0,802.2L300.0,802.2L303.0,802.2L306.0,802.2L309.0,802.2L312.0,802.2L315.0,802.2L318.0,802.2L321.0,802.2L324.0,802.2L327.0,802.2L330.0,802.2L333.0,802.2L336.0,802.2L339.0,802.2L342.0,802.2L345.0,802.2L348.0,802.2L351.0,802.2L354.0,802.2L357.0,802.2L360.0,802.2L363.0,802.2L366.0,802.2L369.0,802.2L372.0,802.2L375.0,802.2L378.0,802.2L381.0,802.2L384.0,802.2L387.0,802.2L390.0,802.2L393.0,802.2L396.0,802.2L399.0,802.1L402.0,802.1L405.0,802.1L408.0,802.1L411.0,802.1L414.0,802.1L417.0,802.1L420.0,802.1L423.0,802.1L426.0,802.1L429.0,802.1L432.0,802.1L435.0,802.0L438.0,802.0L441.0,802.0L444.0,802.0L447.0,802.0L450.0,802.0L453.0,802.0L456.0,802.0L459.0,802.0L462.0,802.0L465.0,802.0L468.0,801.9L471.0,801.9L474.0,801.9L477.0,801.9L480.0,801.9L483.0,801.9L486.0,801.9L489.0,801.9L492.0,801.9L495.0,801.9L498.0,801.8L501.0,801.8L504.1,801.8L507.1,801.8L510.1,801.8L513.1,801.8L516.1,801.8L519.1,801.8L522.1,801.8L525.1,801.8L528.1,801.8L531.1,801.7L534.1,801.7L537.1,801.7L540.1,801.7L543.1,801.7L546.1,801.7L549.1,801.7L552.1,801.7L555.1,801.7L558.1,801.7L561.1,801.7L564.1,801.7L567.1,801.7L570.1,801.7L573.1,801.6L576.1,801.6L579.1,801.6L582.1,801.6L585.1,801.6L588.1,801.6L591.1,801.6L594.1,801.6L597.1,801.6L600.1,801.6L603.1,801.6L606.1,801.6L609.1,801.6L612.1,801.6L615.1,801.6L618.1,801.6L621.1,801.6L624.1,801.6L627.1,801.6L630.1,801.6L633.1,801.6L636.1,801.6L639.1,801.6L642.1,801.6L645.1,801.6L648.1,801.6L651.1,801.6L654.1,801.6L657.1,801.6L660.1,801.6L663.1,801.6L666.1,801.7L669.1,801.7L672.1,801.7L675.1,801.7L678.1,801.7L681.1,801.7L684.1,801.7L687.1,801.7L690.1,801.7L693.1,801.7L696.1,801.8L699.1,801.8L702.1,801.8L705.1,801.8L708.1,801.8L711.1,801.8L714.1,801.8L717.1,801.9L720.1,801.9L723.1,801.9L726.1,801.9L729.1,801.9L732.1,802.0L735.1,802.0L738.1,802.0L741.1,802.0L744.1,802.1L747.1,802.1L750.1,802.1L753.1,802.1L756.1,802.2L759.1,802.2L762.1,802.2L765.1,802.2L768.1,802.3L771.1,802.3L774.1,802.3L777.1,802.4L780.1,802.4L783.1,802.4L786.1,802.5L789.1,802.5L792.1,802.5L795.1,802.6L798.1,802.6L801.1,802.7L804.1,802.7L807.1,802.7L810.1,802.8L813.1,802.8L816.1,802.9L819.1,802.9L822.1,803.0L825.1,803.0L828.1,803.1L831.1,803.1L834.1,803.2L837.1,803.2L840.1,803.3L843.1,803.3L846.1,803.4L849.1,803.4L852.1,803.5L855.1,803.5L858.1,803.6L861.1,803.7L864.1,803.7L867.1,803.8L870.1,803.9L873.1,803.9L876.1,804.0L879.1,804.1L882.1,804.1L885.1,804.2L888.1,804.3L891.1,804.3L894.1,804.4L897.1,804.5L900.1,804.6L903.1,804.6L906.1,804.7L909.1,804.8L912.1,804.9L915.1,804.9L918.1,805.0L921.1,805.1L924.1,805.2L927.1,805.3L930.1,805.4L933.0,805.5L936.0,805.5L939.0,805.6L942.0,805.7L945.0,805.8L948.0,805.9L951.0,806.0L954.0,806.1L957.0,806.3L960.0,806.4L963.0,806.5L966.0,806.7L969.0,806.9L972.0,807.0L975.0,807.2L978.0,807.5L981.0,807.7L984.0,808.0L987.0,808.2L990.0,808.5L993.0,808.9L996.0,809.2L999.0,809.6L1002.0,810.0L1005.0,810.5L1008.0,810.9L1011.0,811.4L1014.0,812.0L1016.9,812.6L1019.9,813.3L1022.7,814.2L1025.5,815.2L1028.2,816.3L1030.7,817.8L1033.1,819.4L1035.4,821.4L1037.5,823.5L1039.3,825.9L1041.1,828.4L1042.6,831.1L1044.0,833.8L1045.2,836.5L1046.2,839.3L1047.1,842.2L1047.9,845.1L1048.6,848.0L1049.2,850.9L1049.8,853.9L1050.3,856.9L1050.7,859.9L1051.1,862.9L1051.5,865.8L1051.9,868.8L1052.3,871.8L1052.7,874.8L1053.1,877.8L1053.5,880.7L1053.8,883.7L1054.2,886.7L1054.5,889.6L1054.9,892.6L1055.2,895.6L1055.5,898.6L1055.9,901.5L1056.2,904.5L1056.5,907.5L1056.9,910.5L1057.2,913.5L1057.5,916.4L1057.8,919.4L1058.1,922.4L1058.5,925.4L1058.8,928.4L1059.2,931.4L1059.5,934.4L1059.8,937.3L1060.2,940.3L1060.6,943.3L1061.0,946.3L1061.3,949.3L1061.8,952.3L1062.2,955.3L1062.8,958.2L1063.4,961.1L1064.1,964.0L1064.8,966.9L1065.8,969.7L1066.8,972.5L1068.0,975.3L1069.3,977.9L1070.9,980.6L1072.6,983.1L1074.4,985.5L1076.5,987.8L1078.7,989.9L1081.0,991.7L1083.5,993.4L1086.1,994.9L1088.8,996.2L1091.6,997.4L1094.4,998.4L1097.3,999.2L1100.2,1000.0L1103.1,1000.6L1106.1,1001.1L1109.1,1001.6L1112.0,1001.9L1115.0,1002.3L1118.0,1002.6L1121.0,1002.9L1124.0,1003.2L1127.0,1003.5L1130.0,1003.8L1132.9,1004.1L1135.9,1004.4L1138.9,1004.6L1141.9,1004.9L1144.9,1005.1L1147.9,1005.4L1150.9,1005.6L1153.9,1005.8L1156.9,1006.1L1159.9,1006.3L1162.9,1006.5L1165.9,1006.7L1168.8,1006.9L1171.8,1007.1L1174.8,1007.3L1177.8,1007.4L1180.8,1007.6L1183.8,1007.8L1186.8,1008.0L1189.8,1008.1L1192.8,1008.3L1195.8,1008.5L1198.8,1008.6L1201.8,1008.8L1204.8,1008.9L1207.8,1009.0L1210.8,1009.2L1213.8,1009.3L1216.8,1009.5L1219.8,1009.6L1222.8,1009.7L1225.8,1009.8L1228.8,1010.0L1231.8,1010.1L1234.8,1010.2L1237.8,1010.3L1240.8,1010.4L1243.8,1010.6L1246.7,1010.7L1249.7,1010.8L1252.7,1010.9L1255.7,1011.0L1258.7,1011.1L1261.7,1011.3L1264.7,1011.4L1267.7,1011.5L1270.7,1011.6L1273.7,1011.7L1276.7,1011.8L1279.7,1012.0L1282.7,1012.1L1285.7,1012.2L1288.7,1012.3L1291.7,1012.4L1294.7,1012.6L1297.7,1012.7L1300.7,1012.8L1303.7,1013.0L1306.7,1013.1L1309.7,1013.2L1312.7,1013.4L1315.7,1013.5L1318.7,1013.7L1321.7,1013.8L1324.7,1014.0L1327.7,1014.2L1330.7,1014.3L1333.7,1014.5L1336.7,1014.7L1339.7,1014.8L1342.7,1015.0L1345.7,1015.2L1348.7,1015.4L1351.7,1015.6L1354.7,1015.8L1357.7,1016.0L1360.7,1016.1L1363.7,1016.3L1366.6,1016.5L1369.6,1016.6L1372.6,1016.8L1375.6,1016.9L1378.6,1017.1L1381.6,1017.2L1384.6,1017.3L1387.6,1017.4L1390.6,1017.4L1393.6,1017.5L1396.6,1017.5L1399.6,1017.5L1402.6,1017.4L1405.6,1017.3L1408.6,1017.1L1411.6,1016.8L1414.5,1016.5L1417.5,1016.0L1420.5,1015.5L1423.5,1014.8L1426.4,1014.1L1429.3,1013.1L1432.1,1012.0L1434.8,1010.7L1437.3,1009.0L1439.5,1007.1L1441.4,1004.9L1443.0,1002.4L1444.3,999.6L1445.5,996.8L1446.5,993.9L1447.4,991.0L1448.1,988.1L1448.8,985.2L1449.4,982.3L1450.0,979.3L1450.6,976.4L1451.2,973.5L1451.8,970.6L1452.3,967.7L1452.9,964.7L1453.4,961.7L1453.9,958.7L1454.4,955.8L1455.0,952.8L1455.4,949.8L1455.9,946.8L1456.4,943.8L1456.8,940.8L1457.2,937.9L1457.6,934.9L1458.1,932.0L1458.5,929.1L1458.9,926.2L1459.3,923.2L1459.8,920.3L1460.2,917.4L1460.7,914.4L1461.2,911.5L1461.7,908.5L1462.3,905.5L1462.9,902.5L1463.6,899.5L1464.2,896.5L1465.0,893.4L1465.9,890.4L1467.0,887.6L1468.7,884.9L1470.7,882.8L1472.9,881.7L1475.2,882.2L1477.3,884.1L1479.1,886.6L1480.6,889.2L1481.9,892.0L1482.8,894.9L1483.6,897.8L1484.2,900.8L1484.6,903.8L1485.0,906.9L1485.3,909.9L1485.6,912.9L1485.9,916.0L1486.3,919.0L1486.7,921.9L1487.0,924.9L1487.4,927.9L1487.8,930.8L1488.2,933.8L1488.5,936.8L1488.9,939.7L1489.2,942.7L1489.5,945.6L1489.9,948.6L1490.2,951.5L1490.5,954.5L1490.8,957.5L1491.1,960.4L1491.5,963.4L1491.8,966.4L1492.1,969.4L1492.5,972.3L1492.9,975.3L1493.2,978.3L1493.6,981.4L1494.0,984.4L1494.5,987.4L1494.9,990.4L1495.5,993.4L1496.1,996.4L1496.8,999.3L1497.6,1002.2L1498.5,1005.0L1499.6,1007.8L1500.8,1010.5L1502.1,1013.1L1503.7,1015.7L1505.4,1018.1L1507.2,1020.5L1509.2,1022.7L1511.3,1024.8L1513.5,1026.8L1515.8,1028.6L1518.3,1030.3L1520.8,1031.9L1523.4,1033.2L1526.1,1034.5L1528.9,1035.6L1531.7,1036.6L1534.6,1037.5L1537.5,1038.3L1540.4,1039.1L1543.4,1039.8L1546.4,1040.5L1549.3,1041.2L1552.3,1041.9L1555.2,1042.6L1558.2,1043.2L1561.1,1043.9L1564.0,1044.6L1566.9,1045.3L1569.9,1046.0L1572.8,1046.7L1575.7,1047.4L1578.6,1048.1L1581.5,1048.8L1584.4,1049.5L1587.3,1050.2L1590.2,1050.9L1593.1,1051.6L1596.0,1052.3L1598.9,1053.1L1601.8,1053.8L1604.7,1054.5L1607.6,1055.2L1610.5,1055.9L1613.4,1056.7L1616.3,1057.4L1619.2,1058.1L1622.2,1058.8L1625.1,1059.6L1628.0,1060.3L1630.9,1061.0L1633.8,1061.7L1636.7,1062.4L1639.7,1063.1L1642.6,1063.8L1645.5,1064.5L1648.4,1065.2L1651.4,1065.8L1654.3,1066.5L1657.2,1067.2L1660.2,1067.8L1663.1,1068.5L1666.0,1069.1L1669.0,1069.7L1671.9,1070.4L1674.9,1071.0L1677.8,1071.6L1680.7,1072.1L1683.7,1072.7L1686.6,1073.3L1689.6,1073.8L1692.5,1074.4L1695.5,1074.9L1698.5,1075.4L1701.4,1075.9L1704.4,1076.4L1707.3,1076.8L1710.3,1077.3L1713.3,1077.7L1716.2,1078.1L1719.2,1078.5L1722.2,1078.9L1725.1,1079.3L1728.1,1079.7L1731.1,1080.1L1734.1,1080.5L1737.0,1080.8L1740.0,1081.2L1743.0,1081.5L1746.0,1081.9L1749.0,1082.2L1751.9,1082.6L1754.9,1082.9L1757.9,1083.3L1760.9,1083.6L1763.9,1084.0L1766.8,1084.4L1769.8,1084.7L1772.8,1085.1L1775.8,1085.4L1778.8,1085.8L1781.7,1086.2L1784.7,1086.5L1787.7,1086.9L1790.7,1087.2L1793.6,1087.6L1796.6,1088.0L1799.6,1088.3L1802.6,1088.7L1805.6,1089.0L1808.6,1089.4L1811.5,1089.7L1814.5,1090.1L1817.5,1090.4L1820.5,1090.7L1823.5,1091.1L1826.4,1091.4L1829.4,1091.7L1832.4,1092.0L1835.4,1092.4L1838.4,1092.7L1841.4,1093.0L1844.4,1093.3L1847.3,1093.5L1850.3,1093.8L1853.3,1094.1L1856.3,1094.4L1859.3,1094.7L1862.3,1094.9L1865.3,1095.2L1868.3,1095.5L1871.2,1095.7L1874.2,1096.0L1877.2,1096.2L1880.2,1096.5L1883.2,1096.7L1886.2,1096.9L1889.2,1097.2L1892.2,1097.4L1895.2,1097.6L1898.2,1097.8L1901.2,1098.1L1904.1,1098.3L1907.1,1098.5L1910.1,1098.7L1913.1,1098.9L1916.1,1099.1L1919.1,1099.3L1922.1,1099.5L1925.1,1099.7L1928.1,1099.9L1931.1,1100.0L1934.1,1100.2L1937.1,1100.4L1940.1,1100.6L1943.1,1100.7L1946.1,1100.9L1949.1,1101.1L1952.1,1101.2L1955.1,1101.4L1958.1,1101.5L1961.0,1101.7L1964.0,1101.8L1967.0,1102.0L1970.0,1102.1L1973.0,1102.3L1976.0,1102.4L1979.0,1102.6L1982.0,1102.7L1985.0,1102.8L1988.0,1103.0L1991.0,1103.1L1994.0,1103.2L1997.0,1103.3L2000.0,1103.5L2003.0,1103.6L2006.0,1103.7L2009.0,1103.8L2012.0,1103.9L2015.0,1104.0L2018.0,1104.2L2021.0,1104.3L2024.0,1104.4L2027.0,1104.5L2030.0,1104.6L2033.0,1104.7L2036.0,1104.8L2039.0,1104.9L2042.0,1105.0" fill="none" stroke="#000" stroke-width="9.5" stroke-linecap="round" stroke-linejoin="round"/>
<path d="M225.0,1212.0L228.0,1212.1L231.0,1212.1L234.0,1212.2L237.0,1212.3L240.0,1212.3L243.0,1212.4L246.0,1212.4L249.0,1212.5L252.0,1212.5L255.0,1212.6L258.0,1212.6L261.0,1212.7L264.0,1212.7L267.0,1212.7L270.0,1212.8L273.0,1212.8L276.0,1212.8L279.0,1212.9L282.0,1212.9L285.0,1212.9L288.0,1213.0L291.0,1213.0L294.0,1213.0L297.0,1213.0L300.0,1213.1L303.0,1213.1L306.0,1213.1L309.0,1213.1L312.0,1213.1L315.0,1213.1L318.0,1213.2L321.0,1213.2L324.0,1213.2L327.0,1213.2L330.0,1213.2L333.0,1213.2L336.0,1213.2L339.0,1213.2L342.0,1213.2L345.0,1213.2L348.0,1213.2L351.0,1213.2L354.0,1213.2L357.0,1213.2L360.0,1213.2L363.0,1213.2L366.0,1213.2L369.0,1213.2L372.0,1213.2L375.0,1213.2L378.0,1213.2L381.0,1213.2L384.0,1213.2L387.0,1213.2L390.0,1213.1L393.0,1213.1L396.0,1213.1L399.0,1213.1L402.0,1213.1L405.0,1213.1L408.0,1213.1L411.0,1213.1L414.0,1213.1L417.0,1213.0L420.0,1213.0L423.0,1213.0L426.0,1213.0L429.0,1213.0L432.0,1213.0L435.0,1213.0L438.0,1212.9L441.0,1212.9L444.0,1212.9L447.0,1212.9L450.0,1212.9L453.0,1212.9L456.0,1212.9L459.0,1212.8L462.0,1212.8L465.0,1212.8L468.0,1212.8L471.0,1212.8L474.0,1212.8L477.0,1212.8L480.0,1212.8L483.0,1212.7L486.0,1212.7L489.0,1212.7L492.1,1212.7L495.1,1212.7L498.1,1212.7L501.1,1212.7L504.1,1212.7L507.1,1212.7L510.1,1212.7L513.1,1212.7L516.1,1212.7L519.1,1212.7L522.1,1212.6L525.1,1212.6L528.1,1212.6L531.1,1212.6L534.1,1212.6L537.1,1212.6L540.1,1212.7L543.1,1212.7L546.1,1212.7L549.1,1212.7L552.1,1212.7L555.1,1212.7L558.1,1212.7L561.1,1212.7L564.1,1212.7L567.1,1212.7L570.1,1212.7L573.1,1212.8L576.1,1212.8L579.1,1212.8L582.1,1212.8L585.1,1212.8L588.1,1212.9L591.1,1212.9L594.1,1212.9L597.1,1213.0L600.1,1213.0L603.1,1213.0L606.1,1213.1L609.1,1213.1L612.1,1213.1L615.1,1213.2L618.1,1213.2L621.1,1213.3L624.1,1213.3L627.1,1213.3L630.1,1213.4L633.1,1213.4L636.1,1213.5L639.1,1213.6L642.1,1213.6L645.1,1213.7L648.1,1213.7L651.1,1213.8L654.1,1213.9L657.1,1213.9L660.1,1214.0L663.1,1214.1L666.1,1214.2L669.1,1214.2L672.1,1214.3L675.1,1214.4L678.1,1214.5L681.1,1214.6L684.1,1214.7L687.1,1214.8L690.1,1214.9L693.1,1215.0L696.1,1215.1L699.1,1215.2L702.1,1215.3L705.1,1215.4L708.1,1215.5L711.1,1215.6L714.1,1215.7L717.1,1215.9L720.1,1216.0L723.1,1216.1L726.1,1216.2L729.1,1216.4L732.1,1216.5L735.1,1216.7L738.1,1216.8L741.1,1216.9L744.1,1217.1L747.1,1217.2L750.1,1217.4L753.1,1217.6L756.0,1217.7L759.0,1217.9L762.0,1218.1L765.0,1218.2L768.0,1218.4L771.0,1218.6L774.0,1218.8L777.0,1219.0L780.0,1219.2L783.0,1219.4L786.0,1219.6L789.0,1219.8L792.0,1220.0L795.0,1220.2L798.0,1220.5L800.9,1220.8L803.9,1221.1L806.9,1221.4L809.9,1221.7L812.8,1222.1L815.8,1222.5L818.8,1223.0L821.7,1223.5L824.7,1224.0L827.6,1224.6L830.6,1225.2L833.5,1225.9L836.4,1226.6L839.3,1227.4L842.2,1228.2L845.1,1229.1L848.0,1230.0L850.8,1231.0L853.7,1232.0L856.5,1233.1L859.3,1234.2L862.1,1235.4L864.9,1236.5L867.7,1237.8L870.4,1239.0L873.1,1240.3L875.8,1241.7L878.5,1243.0L881.1,1244.4L883.7,1245.9L886.4,1247.3L889.0,1248.8L891.6,1250.3L894.1,1251.8L896.7,1253.4L899.2,1254.9L901.8,1256.5L904.3,1258.1L906.8,1259.7L909.3,1261.4L911.8,1263.0L914.3,1264.7L916.8,1266.3L919.3,1268.0L921.8,1269.7L924.3,1271.3L926.8,1273.0L929.3,1274.7L931.8,1276.4L934.3,1278.1L936.8,1279.7L939.3,1281.4L941.8,1283.0L944.3,1284.6L946.8,1286.2L949.4,1287.8L951.9,1289.4L954.5,1290.9L957.1,1292.4L959.7,1293.8L962.3,1295.2L965.0,1296.6L967.7,1297.9L970.4,1299.2L973.1,1300.4L975.9,1301.6L978.6,1302.7L981.5,1303.8L984.3,1304.8L987.2,1305.7L990.0,1306.6L992.9,1307.5L995.9,1308.3L998.8,1309.0L1001.8,1309.7L1004.7,1310.4L1007.7,1311.0L1010.6,1311.6L1013.6,1312.2L1016.6,1312.7L1019.5,1313.2L1022.5,1313.7L1025.5,1314.1L1028.5,1314.5L1031.4,1314.9L1034.4,1315.3L1037.4,1315.6L1040.4,1316.0L1043.4,1316.3L1046.3,1316.5L1049.3,1316.8L1052.3,1317.1L1055.3,1317.3L1058.3,1317.5L1061.3,1317.7L1064.3,1318.0L1067.2,1318.2L1070.2,1318.3L1073.2,1318.5L1076.2,1318.7L1079.2,1318.9L1082.2,1319.0L1085.2,1319.2L1088.2,1319.3L1091.2,1319.4L1094.2,1319.6L1097.2,1319.7L1100.1,1319.8L1103.1,1319.9L1106.1,1320.0L1109.1,1320.1L1112.1,1320.2L1115.1,1320.2L1118.1,1320.3L1121.1,1320.4L1124.1,1320.5L1127.1,1320.5L1130.1,1320.6L1133.1,1320.6L1136.1,1320.7L1139.1,1320.7L1142.1,1320.8L1145.1,1320.8L1148.1,1320.9L1151.1,1320.9L1154.1,1320.9L1157.1,1321.0L1160.1,1321.0L1163.1,1321.0L1166.1,1321.0L1169.1,1321.1L1172.1,1321.1L1175.1,1321.1L1178.1,1321.1L1181.1,1321.2L1184.1,1321.2L1187.1,1321.2L1190.1,1321.2L1193.1,1321.3L1196.1,1321.3L1199.1,1321.3L1202.1,1321.3L1205.1,1321.4L1208.1,1321.4L1211.1,1321.4L1214.2,1321.5L1217.2,1321.5L1220.2,1321.6L1223.2,1321.6L1226.2,1321.7L1229.2,1321.7L1232.2,1321.8L1235.2,1321.8L1238.2,1321.9L1241.2,1322.0L1244.2,1322.1L1247.2,1322.1L1250.2,1322.2L1253.2,1322.3L1256.2,1322.4L1259.2,1322.5L1262.2,1322.6L1265.2,1322.7L1268.2,1322.9L1271.2,1323.0L1274.2,1323.1L1277.2,1323.3L1280.2,1323.4L1283.2,1323.6L1286.2,1323.7L1289.2,1323.9L1292.2,1324.1L1295.2,1324.2L1298.2,1324.4L1301.2,1324.6L1304.2,1324.8L1307.2,1325.0L1310.2,1325.2L1313.2,1325.5L1316.2,1325.7L1319.2,1325.9L1322.1,1326.2L1325.1,1326.4L1328.1,1326.7L1331.1,1327.0L1334.1,1327.3L1337.0,1327.6L1340.0,1327.9L1343.0,1328.2L1346.0,1328.5L1348.9,1328.8L1351.9,1329.2L1354.8,1329.5L1357.8,1329.9L1360.8,1330.3L1363.7,1330.6L1366.7,1331.0L1369.6,1331.4L1372.6,1331.8L1375.6,1332.2L1378.5,1332.6L1381.5,1333.0L1384.5,1333.4L1387.5,1333.7L1390.5,1334.1L1393.5,1334.5L1396.5,1334.8L1399.5,1335.2L1402.6,1335.5L1405.6,1335.8L1408.7,1336.1L1411.7,1336.4L1414.8,1336.6L1417.9,1336.7L1420.9,1336.7L1423.9,1336.5L1426.7,1336.1L1429.5,1335.4L1432.2,1334.3L1434.7,1332.9L1437.0,1331.1L1439.2,1329.1L1441.2,1326.8L1443.0,1324.3L1444.6,1321.7L1446.0,1318.9L1447.2,1316.1L1448.1,1313.2L1448.9,1310.3L1449.5,1307.3L1450.1,1304.4L1450.5,1301.4L1450.9,1298.4L1451.3,1295.4L1451.6,1292.4L1452.0,1289.5L1452.4,1286.5L1452.9,1283.5L1453.3,1280.6L1453.8,1277.6L1454.3,1274.7L1454.8,1271.7L1455.3,1268.8L1455.8,1265.9L1456.3,1262.9L1456.8,1260.0L1457.3,1257.0L1457.7,1254.0L1458.2,1251.1L1458.6,1248.1L1459.0,1245.1L1459.4,1242.1L1459.8,1239.1L1460.2,1236.1L1460.6,1233.1L1461.0,1230.1L1461.5,1227.1L1462.1,1224.1L1462.7,1221.2L1463.4,1218.3L1464.2,1215.4L1465.1,1212.6L1466.2,1209.8L1467.4,1207.1L1468.7,1204.5L1470.2,1201.9L1471.9,1199.4L1473.7,1196.9L1475.6,1194.6L1477.6,1192.2L1479.7,1190.0L1481.8,1187.7L1483.6,1185.4L1485.2,1182.9L1486.4,1180.3L1487.2,1177.5L1487.8,1174.6L1488.2,1171.6L1488.5,1168.6L1488.8,1165.5L1489.0,1162.5L1489.2,1159.5L1489.4,1156.4L1489.6,1153.4L1489.8,1150.4L1489.9,1147.4L1490.1,1144.4L1490.2,1141.4L1490.3,1138.3L1490.4,1135.3L1490.5,1132.3L1490.6,1129.3L1490.7,1126.3L1490.8,1123.3L1490.8,1120.3L1490.9,1117.3L1490.9,1114.3L1490.9,1111.3L1491.0,1108.3L1491.0,1105.3L1491.0,1102.4L1491.1,1099.4L1491.1,1096.4L1491.1,1093.4L1491.2,1090.4L1491.2,1087.4L1491.2,1084.4L1491.2,1081.4L1491.3,1078.4L1491.3,1075.4L1491.4,1072.5L1491.4,1069.5L1491.5,1066.5L1491.5,1063.5L1491.6,1060.5L1491.7,1057.5L1491.7,1054.5L1491.8,1051.5L1491.9,1048.5L1492.0,1045.5L1492.1,1042.5L1492.1,1039.5L1492.2,1036.5L1492.3,1033.5L1492.4,1030.5L1492.4,1027.4L1492.5,1024.4L1492.5,1021.4L1492.6,1018.4L1492.7,1015.3L1492.8,1012.3L1493.1,1009.3L1493.5,1006.3L1494.3,1003.4L1495.3,1000.5L1496.8,998.0L1499.0,996.3L1501.7,995.4L1504.7,995.1L1507.7,995.1L1510.7,995.3L1513.6,995.8L1516.5,996.5L1519.4,997.4L1522.3,998.4L1525.1,999.5L1528.0,1000.6L1530.8,1001.8L1533.6,1002.9L1536.3,1004.1L1539.1,1005.3L1541.8,1006.5L1544.6,1007.6L1547.4,1008.8L1550.1,1009.9L1552.9,1011.1L1555.6,1012.2L1558.4,1013.4L1561.2,1014.5L1563.9,1015.6L1566.7,1016.7L1569.5,1017.8L1572.3,1018.9L1575.1,1020.0L1577.9,1021.1L1580.7,1022.2L1583.5,1023.2L1586.3,1024.3L1589.1,1025.4L1591.9,1026.4L1594.7,1027.5L1597.5,1028.5L1600.3,1029.5L1603.2,1030.6L1606.0,1031.6L1608.8,1032.6L1611.6,1033.6L1614.5,1034.6L1617.3,1035.7L1620.1,1036.7L1622.9,1037.7L1625.8,1038.7L1628.6,1039.6L1631.5,1040.6L1634.3,1041.6L1637.1,1042.6L1640.0,1043.6L1642.8,1044.5L1645.7,1045.5L1648.5,1046.5L1651.4,1047.4L1654.2,1048.3L1657.1,1049.3L1659.9,1050.2L1662.8,1051.1L1665.6,1052.1L1668.5,1053.0L1671.4,1053.9L1674.2,1054.8L1677.1,1055.6L1680.0,1056.5L1682.8,1057.4L1685.7,1058.2L1688.6,1059.1L1691.5,1059.9L1694.4,1060.7L1697.2,1061.6L1700.1,1062.4L1703.0,1063.2L1705.9,1063.9L1708.8,1064.7L1711.7,1065.5L1714.6,1066.2L1717.5,1066.9L1720.4,1067.7L1723.3,1068.4L1726.3,1069.1L1729.2,1069.7L1732.1,1070.4L1735.0,1071.1L1738.0,1071.7L1740.9,1072.3L1743.8,1072.9L1746.8,1073.6L1749.7,1074.2L1752.6,1074.7L1755.6,1075.3L1758.5,1075.9L1761.5,1076.4L1764.4,1077.0L1767.4,1077.5L1770.3,1078.0L1773.3,1078.5L1776.3,1079.0L1779.2,1079.5L1782.2,1080.0L1785.1,1080.5L1788.1,1081.0L1791.1,1081.4L1794.0,1081.9L1797.0,1082.4L1800.0,1082.8L1803.0,1083.2L1805.9,1083.7L1808.9,1084.1L1811.9,1084.5L1814.8,1084.9L1817.8,1085.3L1820.8,1085.7L1823.8,1086.1L1826.8,1086.5L1829.7,1086.9L1832.7,1087.3L1835.7,1087.7L1838.7,1088.1L1841.6,1088.4L1844.6,1088.8L1847.6,1089.2L1850.6,1089.5L1853.6,1089.9L1856.5,1090.2L1859.5,1090.6L1862.5,1090.9L1865.5,1091.2L1868.5,1091.6L1871.4,1091.9L1874.4,1092.2L1877.4,1092.5L1880.4,1092.9L1883.4,1093.2L1886.4,1093.5L1889.4,1093.8L1892.3,1094.1L1895.3,1094.4L1898.3,1094.7L1901.3,1095.0L1904.3,1095.2L1907.3,1095.5L1910.3,1095.8L1913.2,1096.1L1916.2,1096.3L1919.2,1096.6L1922.2,1096.9L1925.2,1097.1L1928.2,1097.4L1931.2,1097.6L1934.2,1097.8L1937.1,1098.1L1940.1,1098.3L1943.1,1098.6L1946.1,1098.8L1949.1,1099.0L1952.1,1099.2L1955.1,1099.4L1958.1,1099.6L1961.1,1099.9L1964.1,1100.1L1967.1,1100.3L1970.1,1100.5L1973.1,1100.7L1976.0,1100.8L1979.0,1101.0L1982.0,1101.2L1985.0,1101.4L1988.0,1101.6L1991.0,1101.7L1994.0,1101.9L1997.0,1102.1L2000.0,1102.2L2003.0,1102.4L2006.0,1102.5L2009.0,1102.7L2012.0,1102.8L2015.0,1103.0L2018.0,1103.1L2021.0,1103.2L2024.0,1103.4L2027.0,1103.5L2030.0,1103.6L2033.0,1103.8L2036.0,1103.9L2039.0,1104.0L2042.0,1104.1" fill="none" stroke="#f00" stroke-width="9.5" stroke-linecap="round" stroke-linejoin="round"/>
<path d="M303,675.3V534.1H833V675.3Z" fill="#fff" stroke="#000" stroke-width="3.8" stroke-dasharray="22.7 10.5" stroke-dashoffset="6.6"/>
<path d="M318.5,566.5H485.4" stroke="#000" stroke-width="9" stroke-linecap="round"/>
<path d="M318.5,639.4H484.4" stroke="#f00" stroke-width="9" stroke-linecap="round"/>
<text y="587.5"><tspan x="505.6" font-size="56.5" font-style="italic">G</tspan><tspan x="547 566.2" font-size="45.5">vd</tspan><tspan x="590.5" font-size="55">(</tspan><tspan x="608.1" font-size="55" font-style="italic">s</tspan><tspan x="630.1" font-size="55">)</tspan></text>
<text y="659.1"><tspan x="503" font-size="56.5" font-style="italic">G</tspan><tspan x="544 566.1 578.1" font-size="45.5">viv</tspan><tspan x="599.3" dy="3.8" font-size="45.5">_</tspan><tspan x="622.9 643.5" dy="-3.8" font-size="45.5">eq</tspan><tspan x="666.7" dy="3.8" font-size="45.5">_</tspan><tspan x="685.9 699.1 710 731" dy="-3.8" font-size="45.5">line</tspan><tspan x="752.2" font-size="55">(</tspan><tspan x="770" font-size="55" font-style="italic">s</tspan><tspan x="792.1" font-size="55">)</tspan></text>
<path d="M1490.8,378V744" stroke="#f00" stroke-width="4" stroke-dasharray="22.5 10.6" stroke-dashoffset="22.5" fill="none"/>
<path d="M1490.40,378.00L1668.00,323.20" stroke="#f00" stroke-width="3.5" stroke-dasharray="22.5 10.6" stroke-dashoffset="30.1" fill="none"/><path d="M1697.0,314.7L1657.9,305.6L1668.0,323.2L1669.8,340.8Z" fill="#f00"/>
<path d="M1490.40,448.60L1731.80,327.30" stroke="#f00" stroke-width="3.5" stroke-dasharray="22.5 10.6" stroke-dashoffset="11.5" fill="none"/><path d="M1759.8,314.2L1721.0,314.2L1731.8,327.3L1736.7,344.8Z" fill="#f00"/>
<circle cx="1490.4" cy="378.0" r="11" fill="#f00"/>
<circle cx="1490.4" cy="446.6" r="11" fill="#f00"/>
<text font-size="46" fill="#f00" style="fill:#f00" transform="translate(1654.5,308.7) scale(0.98,1)">3030 rad/s</text>
</svg></body></html>
